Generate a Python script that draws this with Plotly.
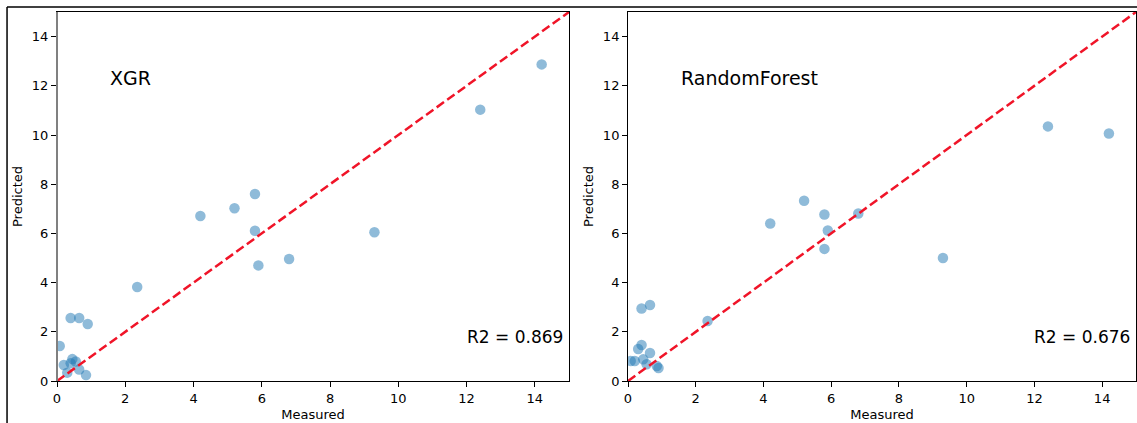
import plotly.graph_objects as go

measured = [14.2, 12.4, 9.3, 6.8, 5.9, 5.8, 5.8, 5.2, 4.2, 2.35,
            0.9, 0.85, 0.65, 0.65, 0.55, 0.45, 0.4, 0.4, 0.3, 0.2, 0.08]
pred_xgr = [12.87, 11.03, 6.05, 4.96, 4.70, 7.60, 6.11, 7.02, 6.71, 3.82,
            2.32, 0.24, 2.56, 0.47, 0.79, 0.89, 2.56, 0.72, 0.34, 0.65, 1.42]
pred_rf = [10.06, 10.35, 5.00, 6.81, 6.12, 6.77, 5.37, 7.33, 6.40, 2.44,
           0.53, 0.61, 3.09, 1.14, 0.68, 0.88, 2.95, 1.46, 1.30, 0.81, 0.81]
models = ["XGR", "RandomForest"]
r2_labels = ["R2 = 0.869", "R2 = 0.676"]
ident = [0, 15]
ticks = [0, 2, 4, 6, 8, 10, 12, 14]

FONT = "DejaVu Sans"
fig = go.Figure()

for i, pred in enumerate([pred_xgr, pred_rf]):
    xa = "x" if i == 0 else "x2"
    ya = "y" if i == 0 else "y2"
    fig.add_trace(go.Scatter(
        x=measured, y=pred, mode="markers", xaxis=xa, yaxis=ya,
        marker=dict(size=10.5, color="rgba(31,119,180,0.5)", line=dict(width=0)),
        showlegend=False))
    fig.add_trace(go.Scatter(
        x=ident, y=ident, mode="lines", xaxis=xa, yaxis=ya,
        line=dict(color="rgb(240,20,40)", width=2.5, dash="9px,4px"),
        showlegend=False))
    fig.add_annotation(x=1.5, y=12, xref=xa, yref=ya, text=models[i],
                       showarrow=False, xanchor="left", yanchor="bottom",
                       font=dict(family=FONT, size=19, color="black"),
                       yshift=-5)
    fig.add_annotation(x=12, y=1.5, xref=xa, yref=ya, text=r2_labels[i],
                       showarrow=False, xanchor="left", yanchor="bottom",
                       font=dict(family=FONT, size=17, color="black"),
                       yshift=-5, xshift=-2)

axis_common = dict(range=[0, 15], showline=True, mirror=True, linecolor="black",
                   linewidth=1, ticks="outside", ticklen=5, tickcolor="black",
                   tickvals=ticks, showgrid=False, zeroline=False,
                   automargin=False,
                   tickfont=dict(family=FONT, size=13, color="black"))

fig.update_layout(
    width=1137, height=423,
    margin=dict(l=57, r=1, t=12, b=42),
    paper_bgcolor="white", plot_bgcolor="white",
    xaxis=dict(domain=[0, 0.4745], anchor="y",
               title=dict(text="Measured", standoff=5,
                          font=dict(family=FONT, size=13, color="black")),
               **axis_common),
    yaxis=dict(domain=[0, 1], anchor="x",
               title=dict(text="Predicted", standoff=6,
                          font=dict(family=FONT, size=13, color="black")),
               **axis_common),
    xaxis2=dict(domain=[0.5292, 1], anchor="y2",
                title=dict(text="Measured", standoff=5,
                           font=dict(family=FONT, size=13, color="black")),
                **axis_common),
    yaxis2=dict(domain=[0, 1], anchor="x2",
                title=dict(text="Predicted", standoff=6,
                           font=dict(family=FONT, size=13, color="black")),
                **axis_common),
)

# outer frame lines of the picture (top and left)
fig.add_shape(type="line", xref="paper", yref="paper",
              x0=-0.0463, x1=1.001, y0=1.0136, y1=1.0136,
              line=dict(color="black", width=1.5))
fig.add_shape(type="line", xref="paper", yref="paper",
              x0=-0.0463, x1=-0.0463, y0=-0.12, y1=1.0136,
              line=dict(color="black", width=1.5))
# left spine of first panel appears gray and thicker
fig.add_shape(type="line", xref="x domain", yref="y domain",
              x0=0, x1=0, y0=0, y1=1, line=dict(color="#808080", width=2))

fig.write_html("out.html", config={"displayModeBar": False},
               post_script="document.body.style.margin='0';"
                           "document.body.style.overflow='hidden';")
